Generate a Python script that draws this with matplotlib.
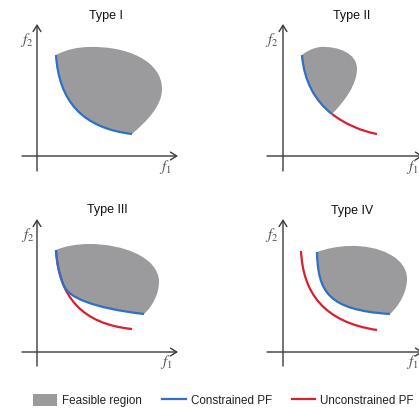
import matplotlib
matplotlib.use("Agg")
import matplotlib.pyplot as plt
from matplotlib.path import Path
from matplotlib.patches import PathPatch, Patch
from matplotlib.lines import Line2D

plt.rcParams['font.family'] = ['Liberation Sans', 'DejaVu Sans']
plt.rcParams['mathtext.fontset'] = 'stix'

# ---- data: Bezier control points (f1, f2) of each schematic shape ----
titles = ["Type I", "Type II", "Type III", "Type IV"]

front_I = [(19, 101), (22, 55), (45, 28), (95, 22)]
outer_I = [(95, 22), (110, 35), (125, 50), (125, 67), (125, 95), (90, 110), (53, 109),
           (40, 109), (28, 106), (19, 101)]

blue_II = [(19, 101), (21, 75), (32, 55), (49, 42)]
red_II = [(49, 42), (62, 32), (78, 25), (94, 22)]
outer_II = [(49, 42), (62, 55), (74, 72), (74, 87), (74, 103), (55, 110), (37, 109),
            (30, 108), (24, 105), (19, 101)]

blue_III = [(19, 102), (19.9, 87.9), (22.6, 75.6), (27.3, 65.2),
            (32, 55), (55, 44), (107, 38)]
red_III = [(19, 102), (22, 55), (45, 28), (95, 23)]
outer_III = [(107, 38), (115, 45), (122, 58), (122, 70), (122, 95), (85, 108), (53, 108),
             (40, 108), (28, 106), (19, 102)]

blue_IV = [(34, 100), (35, 60), (45, 42), (107, 38)]
red_IV = [(18, 101), (20, 60), (40, 30), (94, 22)]
outer_IV = [(107, 38), (116, 46), (124, 60), (124, 73), (124, 95), (95, 107), (67, 106),
            (55, 106), (42, 103), (34, 100)]

legend_labels = ["Feasible region", "Constrained PF", "Unconstrained PF"]

GRAY = "#9b9b9d"
BLUE = "#2f6fc4"
RED = "#d8202e"
AXC = "#3a3a3a"

W, H = 419, 410
fig = plt.figure(figsize=(W / 100, H / 100), dpi=100)

# panel boxes in pixels (x0, y0, x1, y1) and origin pixel of the f1/f2 axes
boxes = [(0, 0, 210, 185), (210, 0, 419, 185), (0, 185, 210, 370), (210, 185, 419, 370)]
origins = [(37, 157), (283, 157), (37, 353), (283, 353)]
xext = [(-15, 141), (-16, 140), (-15, 141), (-16, 140)]
yext = [(-15, 132), (-15, 132), (-14, 133), (-14, 133)]
f2pos = [(-10, 117), (-11, 117), (-9, 118), (-11, 118)]
f1pos = [(128, -10), (129, -10), (129, -9), (129, -9)]
tpos = [(69, 141), (69, 141), (70, 143), (69, 142)]


def curve_path(pts, closed=False):
    codes = [Path.MOVETO] + [Path.CURVE4] * (len(pts) - 1)
    verts = list(pts)
    if closed:
        verts.append(pts[0])
        codes.append(Path.CLOSEPOLY)
    return Path(verts, codes)


regions = [front_I + outer_I[1:], blue_II + outer_II[1:],
           blue_III + outer_III[1:], blue_IV + outer_IV[1:]]
blues = [front_I, blue_II, blue_III, blue_IV]
reds = [None, red_II, red_III, red_IV]

for i in range(4):
    x0, y0, x1, y1 = boxes[i]
    ox, oy = origins[i]
    ax = fig.add_axes([x0 / W, 1 - y1 / H, (x1 - x0) / W, (y1 - y0) / H])
    ax.set_xlim(x0 - ox, x1 - ox)
    ax.set_ylim(oy - y1, oy - y0)
    ax.axis('off')

    # axes with arrows
    arrow = dict(arrowstyle='->,head_length=0.45,head_width=0.28', lw=1.0, color=AXC,
                 shrinkA=0, shrinkB=0)
    ax.annotate('', xy=(xext[i][1], 0), xytext=(xext[i][0], 0), arrowprops=arrow,
                annotation_clip=False)
    ax.annotate('', xy=(0, yext[i][1]), xytext=(0, yext[i][0]), arrowprops=arrow,
                annotation_clip=False)

    ax.add_patch(PathPatch(curve_path(regions[i], closed=True), facecolor=GRAY,
                           edgecolor='none', zorder=2))
    if reds[i] is not None:
        ax.add_patch(PathPatch(curve_path(reds[i]), fill=False, edgecolor=RED, lw=1.6,
                               capstyle='butt', zorder=3))
    ax.add_patch(PathPatch(curve_path(blues[i]), fill=False, edgecolor=BLUE, lw=1.6,
                           capstyle='butt', zorder=4))

    ax.text(*f2pos[i], r'$f_2$', fontsize=11, color='#555555', ha='center', va='center')
    ax.text(*f1pos[i], r'$f_1$', fontsize=11, color='#555555', ha='center', va='center')
    ax.text(*tpos[i], titles[i], fontsize=9, color='#111111', ha='center', va='center')

handles = [Patch(facecolor=GRAY, edgecolor='none'),
           Line2D([], [], color=BLUE, lw=1.6),
           Line2D([], [], color=RED, lw=1.6)]
fig.legend(handles, legend_labels, loc='center', bbox_to_anchor=(223.5 / W, 1 - 401 / H),
           ncol=3, frameon=False, fontsize=8.4, handlelength=2.05, handleheight=1.2,
           handletextpad=0.43, columnspacing=1.7, borderaxespad=0, borderpad=0,
           labelcolor='#222222')

fig.savefig("out.png", dpi=100)
